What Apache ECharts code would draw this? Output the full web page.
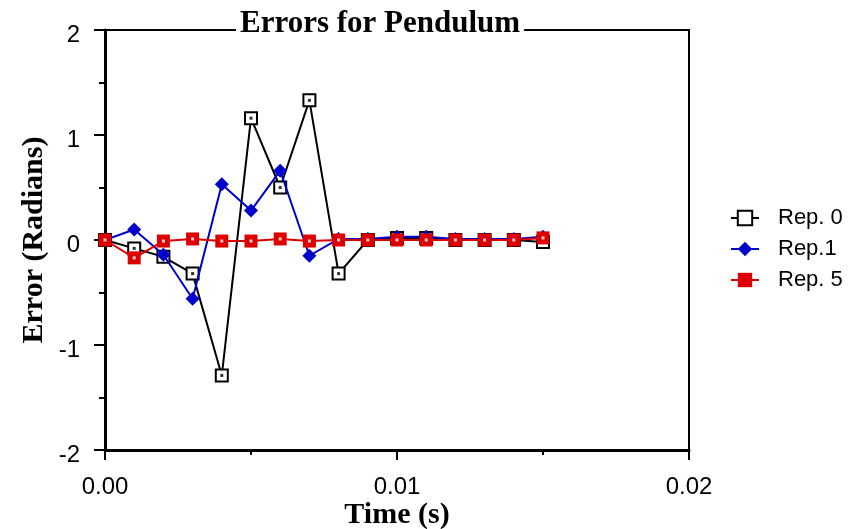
<!DOCTYPE html>
<html>
<head>
<meta charset="utf-8">
<script src="https://cdn.jsdelivr.net/npm/echarts@6/dist/echarts.min.js"></script>
<style>html,body{margin:0;padding:0;background:#fff;}#c{width:856px;height:529px;}</style>
</head>
<body>
<div id="c"></div>
<script>
var times = [0, 0.001, 0.002, 0.003, 0.004, 0.005, 0.006, 0.007, 0.008, 0.009, 0.010, 0.011, 0.012, 0.013, 0.014, 0.015];
var rep0 = [0, -0.08, -0.16, -0.32, -1.29, 1.16, 0.50, 1.33, -0.32, 0.0, 0.02, 0.02, 0.0, 0.0, 0.0, -0.02];
var rep1 = [0, 0.10, -0.14, -0.56, 0.53, 0.28, 0.66, -0.15, 0.01, 0.01, 0.03, 0.03, 0.01, 0.01, 0.01, 0.03];
var rep5 = [0, -0.17, -0.01, 0.01, -0.01, -0.01, 0.01, -0.01, 0.0, 0.0, 0.0, 0.0, 0.0, 0.0, 0.0, 0.02];
var seriesNames = ['Rep. 0', 'Rep.1', 'Rep. 5'];
var xTicks = [0, 0.01, 0.02];
var yTicks = [-2, -1, 0, 1, 2];

function pts(arr) { return times.map(function (t, i) { return [t, arr[i]]; }); }

var chart = echarts.init(document.getElementById('c'), null, {renderer: 'canvas'});
chart.setOption({
  animation: false,
  backgroundColor: '#fff',
  title: {
    text: 'Errors for Pendulum',
    left: 236, top: 6,
    padding: [2, 4],
    backgroundColor: '#fff',
    textStyle: {fontFamily: 'Liberation Serif', fontWeight: 'bold', fontSize: 31, color: '#000'}
  },
  grid: {left: 105, top: 30, right: 167, bottom: 79, show: true, borderColor: '#000', borderWidth: 2, backgroundColor: 'transparent', containLabel: false, outerBoundsMode: 'none'},
  legend: {
    orient: 'vertical', left: 725, top: 202,
    itemWidth: 28, itemHeight: 18, itemGap: 9,
    data: seriesNames,
    textStyle: {fontFamily: 'Liberation Sans', fontSize: 22, color: '#000', padding: [0, 0, 0, 14]}
  },
  xAxis: {
    type: 'value', min: 0, max: 0.02, interval: 0.01,
    name: 'Time (s)', nameLocation: 'middle', nameGap: 50, nameMoveOverlap: false,
    nameTextStyle: {fontFamily: 'Liberation Serif', fontWeight: 'bold', fontSize: 30, color: '#000'},
    axisLine: {show: true, onZero: false, lineStyle: {color: '#000', width: 3}},
    axisTick: {show: true, inside: false, length: 10, lineStyle: {color: '#000', width: 2}},
    minorTick: {show: true, splitNumber: 2, length: 5, lineStyle: {color: '#000', width: 2}},
    splitLine: {show: false},
    axisLabel: {
      margin: 25, fontFamily: 'Liberation Sans', fontSize: 24, color: '#000',
      formatter: function (v) { return xTicks.some(function (t) { return Math.abs(t - v) < 1e-9; }) ? v.toFixed(2) : ''; }
    }
  },
  yAxis: {
    type: 'value', min: -2, max: 2, interval: 1,
    name: 'Error (Radians)', nameLocation: 'middle', nameGap: 56, nameMoveOverlap: false,
    nameTextStyle: {fontFamily: 'Liberation Serif', fontWeight: 'bold', fontSize: 30, color: '#000'},
    axisLine: {show: true, onZero: false, lineStyle: {color: '#000', width: 3}},
    axisTick: {show: true, inside: false, length: 11, lineStyle: {color: '#000', width: 2}},
    minorTick: {show: true, splitNumber: 2, length: 6, lineStyle: {color: '#000', width: 2}},
    splitLine: {show: false},
    axisLabel: {
      margin: 25, color: '#000',
      formatter: function (v) { return yTicks.indexOf(v) >= 0 ? '{a|' + v + '}' : ''; },
      rich: {a: {fontFamily: 'Liberation Sans', fontSize: 24, color: '#000', padding: [10, 0, 0, 0]}}
    }
  },
  series: [
    {
      name: 'Rep. 0', type: 'line', data: pts(rep0), z: 2,
      symbol: 'rect', symbolSize: 12, showAllSymbol: true,
      lineStyle: {color: '#000', width: 2},
      itemStyle: {color: '#fff', borderColor: '#000', borderWidth: 2}
    },
    {
      name: 'Rep. 0 dot', type: 'scatter', data: pts(rep0), silent: true, z: 3,
      symbol: 'rect', symbolSize: 3, itemStyle: {color: '#000'}
    },
    {
      name: 'Rep.1', type: 'line', data: pts(rep1), z: 4,
      symbol: 'diamond', symbolSize: 14, showAllSymbol: true,
      lineStyle: {color: '#0000cc', width: 2},
      itemStyle: {color: '#0000cc', borderWidth: 0}
    },
    {
      name: 'Rep. 5', type: 'line', data: pts(rep5), z: 5,
      symbol: 'rect', symbolSize: 13, showAllSymbol: true,
      lineStyle: {color: '#dd0000', width: 2},
      itemStyle: {color: '#dd0000', borderWidth: 0}
    },
    {
      name: 'Rep. 5 dot', type: 'scatter', data: pts(rep5), silent: true, z: 6,
      symbol: 'rect', symbolSize: 3, itemStyle: {color: '#fff'}
    }
  ]
});
</script>
</body>
</html>
